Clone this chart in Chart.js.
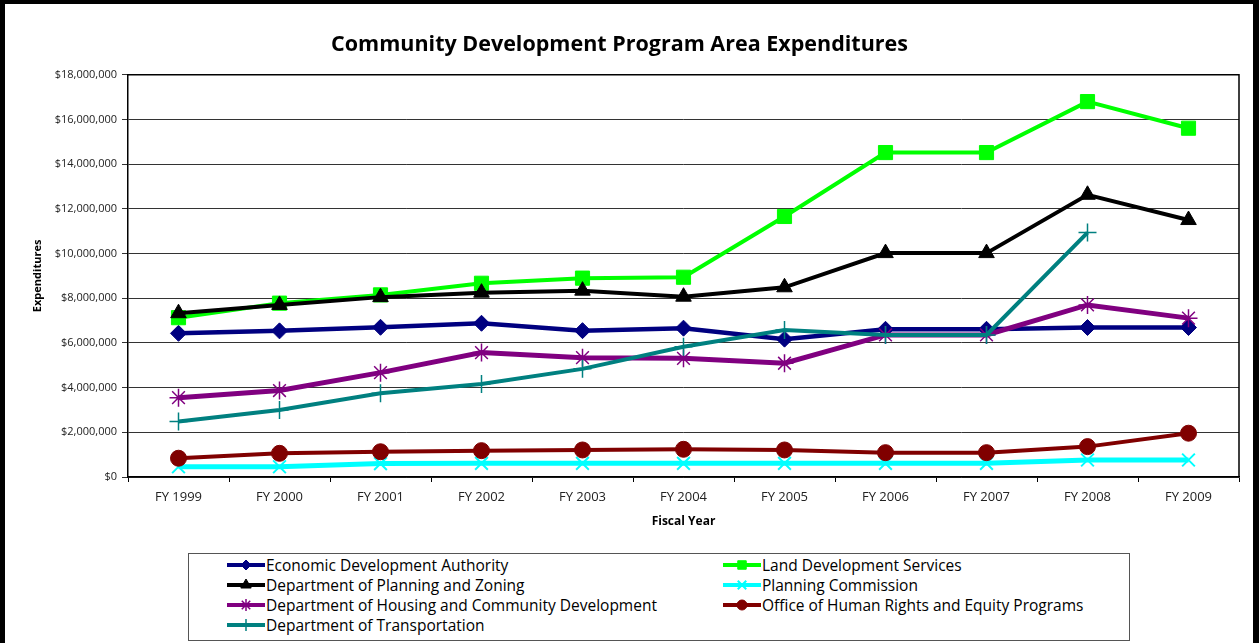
<!DOCTYPE html>
<html><head><meta charset="utf-8">
<script src="https://cdn.jsdelivr.net/npm/chart.js@4.4.1/dist/chart.umd.min.js"></script>
<style>
html,body{margin:0;padding:0;background:#fff;width:1259px;height:643px;overflow:hidden}
#frame{position:absolute;left:0;top:0;width:1259px;height:700px;box-sizing:border-box;border-left:5px solid #000;border-top:4px solid #000;border-right:6px solid #000;pointer-events:none;z-index:5}
#wrap{position:absolute;left:0;top:0;width:1259px;height:550px}
#legend{position:absolute;left:188px;top:553px;width:942px;height:88px;box-sizing:border-box;border:1px solid #555;font-family:"Open Sans";font-size:15.5px;color:#000}
.item{position:absolute;height:20px;display:flex;align-items:center;white-space:nowrap}
.item canvas{display:block}
</style></head>
<body>
<div id="wrap"><canvas id="c"></canvas></div>
<div id="legend"></div>
<div id="frame"></div>
<script>
const categories = ['FY 1999','FY 2000','FY 2001','FY 2002','FY 2003','FY 2004','FY 2005','FY 2006','FY 2007','FY 2008','FY 2009'];
const yTickLabels = ['$0','$2,000,000','$4,000,000','$6,000,000','$8,000,000','$10,000,000','$12,000,000','$14,000,000','$16,000,000','$18,000,000'];
const seriesNames = ['Economic Development Authority','Land Development Services','Department of Planning and Zoning','Planning Commission','Department of Housing and Community Development','Office of Human Rights and Equity Programs','Department of Transportation'];
const economicDevelopment = [6430000,6540000,6700000,6880000,6550000,6660000,6170000,6610000,6610000,6690000,6690000];
const landDevelopment = [7130000,7780000,8150000,8670000,8900000,8940000,11660000,14520000,14520000,16800000,15610000];
const planningZoning = [7330000,7700000,8050000,8250000,8340000,8070000,8490000,10020000,10020000,12630000,11500000];
const planningCommission = [460000,460000,600000,610000,610000,610000,610000,610000,610000,760000,760000];
const housing = [3550000,3870000,4670000,5570000,5340000,5310000,5090000,6360000,6360000,7700000,7110000];
const humanRights = [840000,1060000,1130000,1180000,1210000,1240000,1210000,1090000,1090000,1360000,1960000];
const transportation = [2480000,3000000,3750000,4160000,4840000,5830000,6580000,6360000,6360000,10940000,null];

const seriesValues = [economicDevelopment, landDevelopment, planningZoning, planningCommission, housing, humanRights, transportation];
const styles = [
  {color:'#000080', point:'rectRot', r:8, bw:1, lw:4.5, lr:5},
  {color:'#00FF00', point:'rect', r:10, bw:1, lw:4, lr:6},
  {color:'#000000', point:'triangle', r:9, bw:1, lw:4, lr:6},
  {color:'#00FFFF', point:'crossRot', r:9, bw:2, lw:5, lr:6},
  {color:'#800080', point:'star', r:9, bw:1.5, lw:5, lr:6},
  {color:'#800000', point:'circle', r:8, bw:1, lw:4, lr:5},
  {color:'#008080', point:'cross', r:9, bw:1.5, lw:4, lr:6}
];

const datasets = seriesValues.map((vals, i) => ({
  label: seriesNames[i],
  data: vals,
  borderColor: styles[i].color,
  backgroundColor: styles[i].color,
  pointBackgroundColor: styles[i].color,
  pointBorderColor: styles[i].color,
  borderWidth: styles[i].lw,
  pointStyle: styles[i].point,
  pointRadius: styles[i].r,
  pointBorderWidth: styles[i].bw,
  tension: 0,
  order: seriesValues.length - i
}));

const plotFrame = {
  id: 'plotFrame',
  beforeDatasetsDraw(chart) {
    const {ctx, chartArea: a} = chart;
    ctx.save();
    ctx.strokeStyle = '#000';
    ctx.lineWidth = 1.5;
    ctx.beginPath();
    ctx.moveTo(a.left, a.top);
    ctx.lineTo(a.right, a.top);
    ctx.lineTo(a.right, a.bottom);
    ctx.stroke();
    ctx.restore();
  }
};

const chart = new Chart(document.getElementById('c'), {
  type: 'line',
  data: { labels: categories, datasets },
  plugins: [plotFrame],
  options: {
    responsive: true,
    maintainAspectRatio: false,
    animation: false,
    layout: { padding: { left: 0, right: 20, top: 0, bottom: 0 } },
    plugins: {
      legend: { display: false },
      tooltip: { enabled: false },
      title: {
        display: true,
        text: 'Community Development Program Area Expenditures',
        color: '#000',
        font: { family: 'Open Sans', size: 21.5, weight: 'bold' },
        padding: { top: 32, bottom: 17 }
      }
    },
    scales: {
      x: {
        offset: true,
        grid: { offset: true, drawOnChartArea: false, drawTicks: true, tickLength: 5, color: '#000', lineWidth: 1 },
        border: { display: true, color: '#000', width: 1.5 },
        ticks: { color: '#222', font: { family: 'Open Sans', size: 13 }, padding: 7, maxRotation: 0, autoSkip: false },
        title: { display: true, text: 'Fiscal Year', color: '#000', font: { family: 'Open Sans', size: 12, weight: 'bold' }, padding: { top: 0, bottom: 21 } },
        afterFit(scale) { scale.height = 73; }
      },
      y: {
        min: 0, max: 18000000,
        ticks: {
          stepSize: 2000000,
          color: '#222',
          font: { family: 'Open Sans', size: 11 },
          padding: 5,
          callback: (v, idx) => yTickLabels[idx]
        },
        grid: { color: '#333', lineWidth: 1, drawTicks: true, tickLength: 6 },
        border: { display: true, color: '#000', width: 1.5 },
        title: { display: true, text: 'Expenditures', color: '#000', font: { family: 'Open Sans', size: 11, weight: 'bold' }, padding: { top: 31, bottom: 0 } },
        afterFit(scale) { scale.width = 128; }
      }
    }
  }
});

// HTML legend built from the chart's datasets
const legend = document.getElementById('legend');
const colX = [37, 533];
const rowY = [1, 21, 41, 61];
chart.data.datasets.forEach((ds, i) => {
  const col = i % 2, row = Math.floor(i / 2);
  const item = document.createElement('div');
  item.className = 'item';
  item.style.left = colX[col] + 'px';
  item.style.top = rowY[row] + 'px';
  const cv = document.createElement('canvas');
  cv.width = 40; cv.height = 20;
  const ctx = cv.getContext('2d');
  const st = styles[i];
  ctx.strokeStyle = st.color;
  ctx.lineWidth = 4;
  ctx.beginPath(); ctx.moveTo(1, 10); ctx.lineTo(39, 10); ctx.stroke();
  ctx.fillStyle = st.color;
  ctx.lineWidth = st.bw;
  if (Chart.helpers && Chart.helpers.drawPoint) {
    Chart.helpers.drawPoint(ctx, { pointStyle: st.point, radius: st.lr, rotation: 0, borderWidth: st.bw }, 20, 10);
  }
  const span = document.createElement('span');
  span.textContent = ds.label;
  item.appendChild(cv);
  item.appendChild(span);
  legend.appendChild(item);
});
</script>
</body></html>
